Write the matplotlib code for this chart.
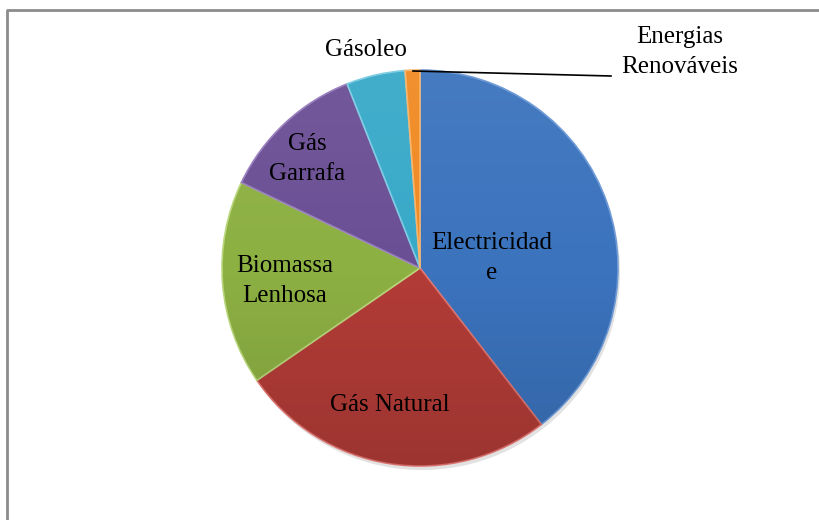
import numpy as np
import matplotlib
matplotlib.use('Agg')
import matplotlib.pyplot as plt
from matplotlib.lines import Line2D
from matplotlib.patches import Circle

# energy sources and their share (%)
sources = ['Electricidade', 'Gás Natural', 'Biomassa Lenhosa', 'Gás Garrafa',
           'Gásoleo', 'Energias Renováveis']
shares = [39.5, 25.9, 16.7, 11.9, 4.8, 1.2]
colours = ['#3B73BD', '#B33C37', '#8DB043', '#6B4F95', '#38A9C9', '#F08A22']
edges = ['#6E9AD6', '#E07470', '#B8D67A', '#9A80BE', '#7CCCE2', '#F7B46A']

# label text as drawn on the chart (wrapped like the original)
label_txt = ['Electricidad\ne', 'Gás Natural', 'Biomassa\nLenhosa', 'Gás\nGarrafa',
             'Gásoleo', 'Energias\nRenováveis']
# centre of each label, pixels from the top-left corner
label_pos = [(492, 258), (390, 405), (285, 281), (307, 159), (366, 50), (680, 52)]

W, H = 820, 520
fig = plt.figure(figsize=(8.2, 5.2), dpi=100)
ax = fig.add_axes([0, 0, 1, 1])

cx, cy, R = 420, H - 268, 198

# soft shadow
ax.pie(shares, colors=['#e2e2e2'] * len(shares), startangle=90, counterclock=False,
       radius=R, center=(cx + 2, cy - 4), wedgeprops=dict(linewidth=0), frame=True)

wedges, _ = ax.pie(shares, colors=colours, startangle=90, counterclock=False,
                   radius=R, center=(cx, cy),
                   wedgeprops=dict(linewidth=1.2), frame=True)
for w, e in zip(wedges, edges):
    w.set_edgecolor(e)

# light-to-dark shading over the pie, top to bottom
g = np.linspace(0, 1, 256)[:, None]
shade = np.zeros((256, 1, 4))
shade[..., :3] = np.where(g < 0.5, 1.0, 0.0)[..., None] * np.ones(3)
shade[..., 3] = np.where(g < 0.5, (0.5 - g) * 0.12, (g - 0.5) * 0.25)
img = ax.imshow(shade, extent=[cx - R, cx + R, cy - R, cy + R], aspect='auto',
                interpolation='bilinear', zorder=3)
clip = Circle((cx, cy), R, transform=ax.transData)
img.set_clip_path(clip)

ax.set_xlim(0, W)
ax.set_ylim(0, H)
ax.set_aspect('equal')
ax.axis('off')

font = dict(family=['Liberation Serif', 'DejaVu Serif'], fontsize=18, color='black',
            ha='center', va='center', linespacing=1.5, zorder=5)
for txt, (x, y) in zip(label_txt, label_pos):
    ax.text(x, H - y, txt, **font)

# leader line for the small renewables slice
ax.add_line(Line2D([413, 611], [H - 71, H - 76], color='black', lw=1.2, zorder=5))

# chart area border (top and left)
ax.add_line(Line2D([7, 7, W], [0, H - 10, H - 10], color='#8c8c8c', lw=2))

fig.savefig('out.png', dpi=100)
